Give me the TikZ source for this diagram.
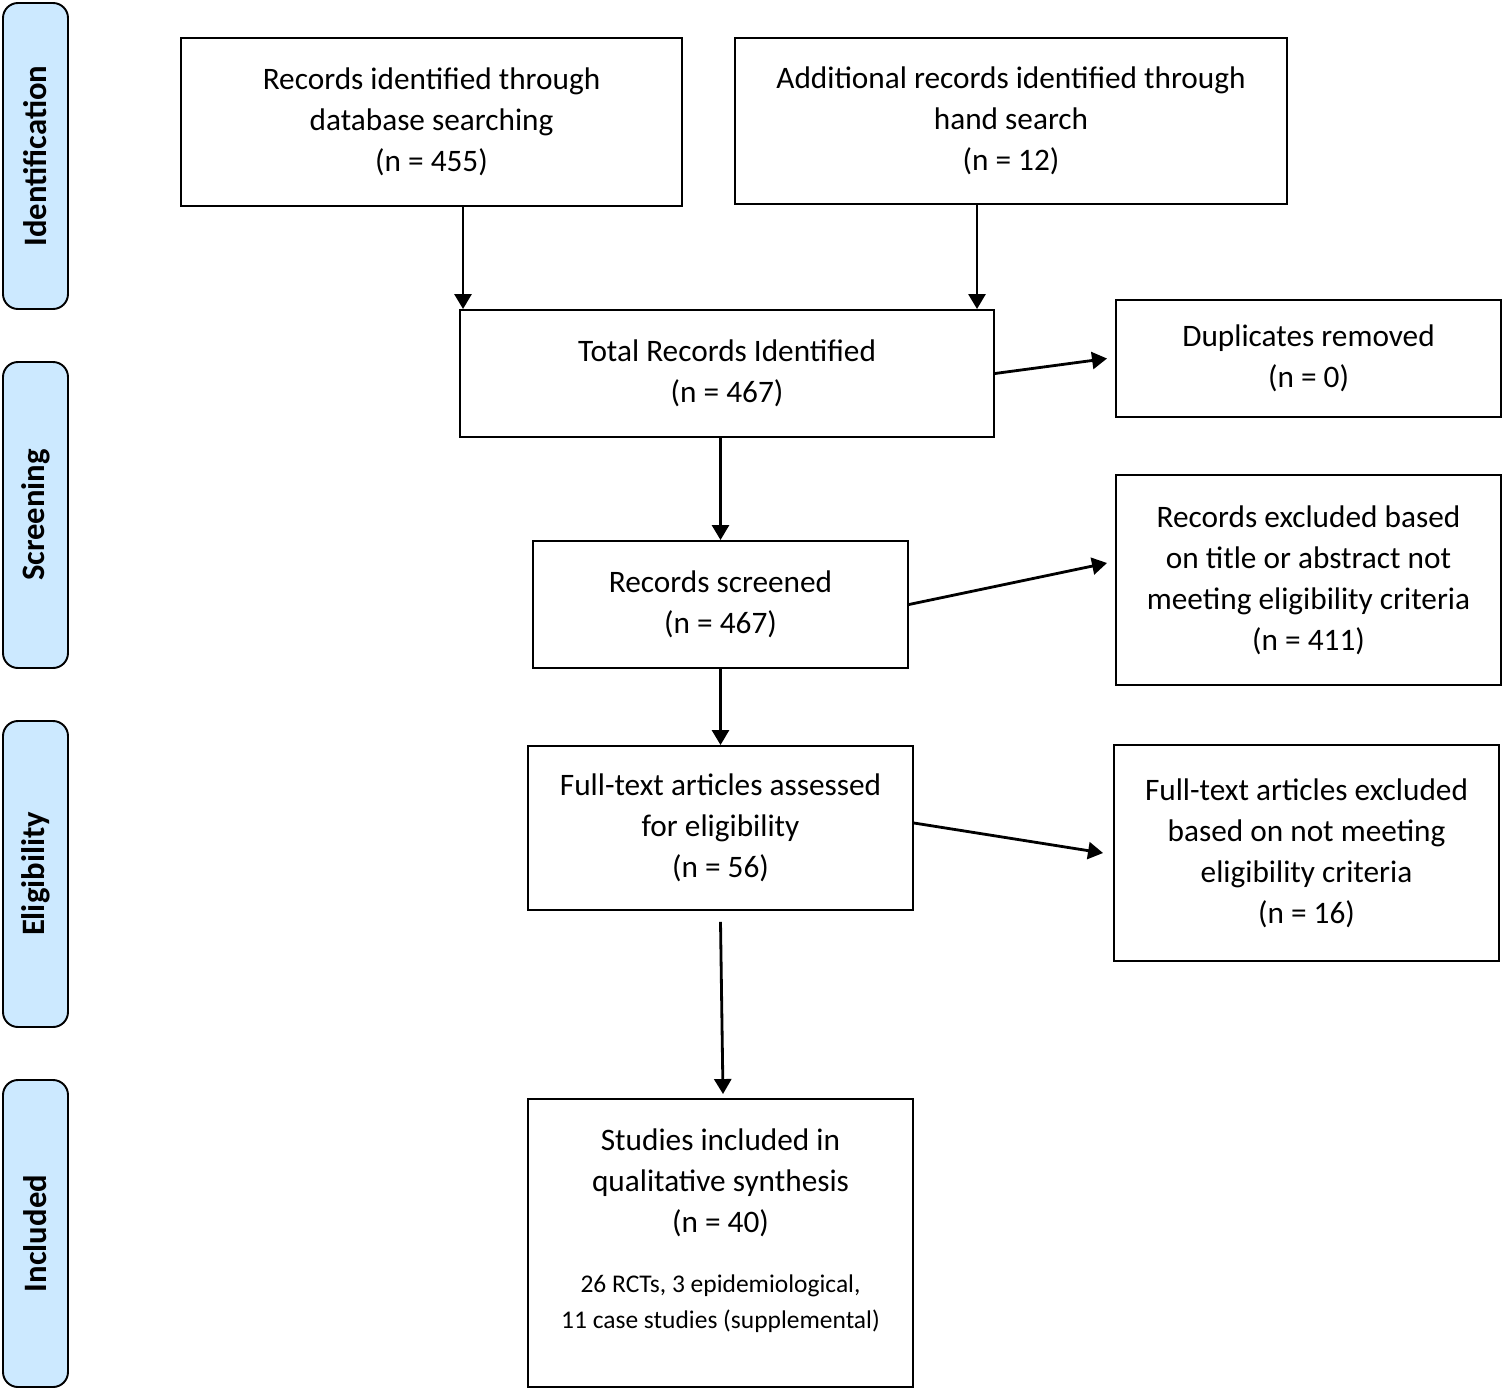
\documentclass[tikz,border=0pt]{standalone}
\usepackage{fontspec}
\setmainfont{Carlito}
\usetikzlibrary{arrows.meta}
\definecolor{stagefill}{HTML}{CCE9FF}
\tikzset{
  box/.style={draw, rectangle, line width=1.1pt, inner sep=0pt, align=center,
    font=\fontsize{17.8}{23.3}\selectfont},
  stage/.style={draw, rectangle, rounded corners=0.3cm, line width=1.1pt, fill=stagefill,
    minimum width=6.12cm, minimum height=1.30cm, rotate=90,
    font=\fontsize{18.6}{22}\selectfont\bfseries},
  arr/.style={-{Triangle[length=0.3cm, width=0.34cm]}, line width=1.6pt}
}
\begin{document}
\begin{tikzpicture}
            \useasboundingbox (0,0) rectangle (30.06,-27.80);
            % phase labels down the left side
            \node[stage] (ident) at (0.71,-3.12) {Identification};
            \node[stage] (screen) at (0.71,-10.30) {Screening};
            \node[stage] (elig) at (0.71,-17.48) {Eligibility};
            \node[stage, minimum width=6.14cm] (inclstage) at (0.71,-24.67) {Included};

            % flow boxes
            \node[box, minimum width=10.02cm, minimum height=3.36cm] (db) at (8.63,-2.44) {Records identified through\\database searching\\(n = 455)};
            \node[box, minimum width=11.04cm, minimum height=3.32cm] (hand) at (20.22,-2.42) {Additional records identified through\\hand search\\(n = 12)};
            \node[box, minimum width=10.68cm, minimum height=2.54cm] (total) at (14.54,-7.47) {Total Records Identified\\(n = 467)};
            \node[box, minimum width=7.70cm, minimum height=2.34cm] (dup) at (26.17,-7.17) {Duplicates removed\\(n = 0)};
            \node[box, minimum width=7.50cm, minimum height=2.54cm] (scr) at (14.41,-12.09) {Records screened\\(n = 467)};
            \node[box, minimum width=7.70cm, minimum height=4.20cm] (excl) at (26.17,-11.60) {Records excluded based\\on title or abstract not\\meeting eligibility criteria\\(n = 411)};
            \node[box, minimum width=7.70cm, minimum height=3.28cm] (full) at (14.41,-16.56) {Full-text articles assessed\\for eligibility\\(n = 56)};
            \node[box, minimum width=7.70cm, minimum height=4.32cm] (ftexcl) at (26.13,-17.06) {Full-text articles excluded\\based on not meeting\\eligibility criteria\\(n = 16)};
            \node[box, minimum width=7.70cm, minimum height=5.76cm] (incl) at (14.41,-24.86) {Studies included in\\qualitative synthesis\\(n = 40)\\[0.39cm]
              {\fontsize{14.5}{20.5}\selectfont 26 RCTs, 3 epidemiological,}\\[-0.1cm]
              {\fontsize{14.5}{20.5}\selectfont 11 case studies (supplemental)}\\[-0.24cm]\rule{0pt}{0pt}};

            % connectors
            \draw[arr] ([xshift=0.63cm]db.south) -- ([xshift=0.63cm]db.south |- total.north);
            \draw[arr] ([xshift=-0.68cm]hand.south) -- ([xshift=-0.68cm]hand.south |- total.north);
            \draw[arr] (total.east) -- ([xshift=-0.16cm]dup.west);
            \draw[arr] (scr.north |- total.south) -- (scr.north);
            \draw[arr] (scr.east) -- ([shift={(-0.16cm,0.34cm)}]excl.west);
            \draw[arr] (scr.south) -- (full.north);
            \draw[arr] ([yshift=0.1cm]full.east) -- ([xshift=-0.2cm]ftexcl.west);
            \draw[arr] ([yshift=-0.22cm]full.south) -- ([shift={(0.05cm,0.08cm)}]incl.north);
\end{tikzpicture}
\end{document}
